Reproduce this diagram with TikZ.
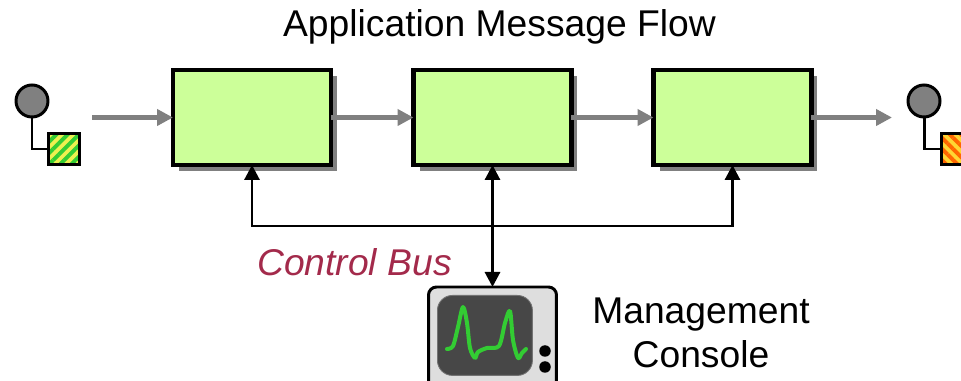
\documentclass[tikz,border=0pt]{standalone}
\usepackage{fontspec}
\setmainfont{Liberation Sans}
\usepackage{xcolor}
\usetikzlibrary{arrows.meta}
\usetikzlibrary{patterns.meta}
\usetikzlibrary{shadows}
\definecolor{boxgreen}{HTML}{CCFF99}
\definecolor{flowgray}{HTML}{808080}
\definecolor{busred}{HTML}{A32A4B}
\definecolor{stripegreen}{HTML}{33CC33}
\definecolor{stripeyellow}{HTML}{EEF050}
\definecolor{stripeorange}{HTML}{FF6600}
\definecolor{stripegold}{HTML}{FFD633}
\definecolor{screengreen}{HTML}{33CC33}
\tikzset{
	filterbox/.style={draw, line width=2.4pt, fill=boxgreen, minimum width=3.16cm, minimum height=1.9cm, outer sep=0pt,
		drop shadow={shadow xshift=.12cm, shadow yshift=-.12cm, opacity=1, fill=flowgray}},
	flowarrow/.style={draw=flowgray, line width=.09cm, -{Triangle[length=.32cm,width=.32cm]}},
	busline/.style={line width=1.7pt},
	bustip/.style={{Triangle[length=.3cm,width=.3cm]}-{Triangle[length=.3cm,width=.3cm]}},
	endcircle/.style={circle, draw, line width=1.7pt, fill=flowgray, minimum size=.64cm, inner sep=0pt, outer sep=0pt},
	endsquare/.style={rectangle, draw, line width=1.7pt, minimum size=.62cm, inner sep=0pt, outer sep=0pt},
	startstripes/.style={preaction={fill=stripeyellow}, pattern={Lines[angle=45,distance=4.5pt,line width=2.2pt]}, pattern color=stripegreen},
	stopstripes/.style={preaction={fill=stripegold}, pattern={Lines[angle=-45,distance=4.5pt,line width=2.2pt]}, pattern color=stripeorange},
	labeltext/.style={font=\fontsize{21.2}{25}\selectfont, align=center},
}
\begin{document}
\begin{tikzpicture}[x=.02cm, y=-.02cm]
	\useasboundingbox (0,0) rectangle (961,381);
	\clip (0,0) rectangle (961,381);
	% Title and labels
	\node[labeltext] (title) at (499.5,26.5) {Application Message Flow};
	\node[labeltext, busred] (buslabel) at (354.5,262) {\itshape Control Bus};
	\node[labeltext] (consolelabel) at (701,333) {Management\\Console};
	% Filters
	\node[filterbox] (filterone) at (252,117.5) {};
	\node[filterbox] (filtertwo) at (492.5,117.5) {};
	\node[filterbox] (filterthree) at (732.5,117.5) {};
	% Start and stop endpoints
	\node[endcircle] (startcircle) at (32,101) {};
	\node[endsquare, startstripes] (startsquare) at (64,149) {};
	\draw[line width=1.7pt] (startcircle.south) |- (startsquare.west);
	\node[endcircle] (stopcircle) at (924,101) {};
	\node[endsquare, stopstripes] (stopsquare) at (957,149) {};
	\draw[line width=1.7pt] (stopcircle.south) |- (stopsquare.west);
	% Message flow
	\coordinate (flowin) at (92,117.5);
	\coordinate (flowout) at (892,117.5);
	\draw[flowarrow] (flowin) -- (filterone.west);
	\draw[flowarrow] (filterone.east) -- (filtertwo.west);
	\draw[flowarrow] (filtertwo.east) -- (filterthree.west);
	\draw[flowarrow] (filterthree.east) -- (flowout);
	% Management console
	\node[draw, line width=1.7pt, fill=black!13, rounded corners=.16cm, minimum width=2.56cm, minimum height=2.4cm, outer sep=0pt, anchor=north] (console) at (492.5,287) {};
	\node[fill=black!72, draw=black!55, line width=.5pt, rounded corners=.3cm, minimum width=1.9cm, minimum height=1.6cm, inner sep=0pt, anchor=north west] (screen) at (437,295) {};
	\node[circle, fill=black, minimum size=.23cm, inner sep=0pt] (knobone) at (545,351) {};
	\node[circle, fill=black, minimum size=.23cm, inner sep=0pt] (knobtwo) at (545,367) {};
	\draw[screengreen, line width=.08cm, line cap=round, line join=round] plot[smooth, tension=.5] coordinates {(447,349) (453,346) (458,327) (463,307) (467,323) (470,348) (475,358) (478,352) (487,348) (499,346) (505,323) (510,311) (513,340) (518,358) (522,353) (526,349)};
	% Control bus
	\coordinate (busmid) at (492.5,226);
	\draw[busline, bustip] (filtertwo.south) -- (console.north);
	\draw[busline, -{Triangle[length=.3cm,width=.3cm]}] (busmid) -| (filterone.south);
	\draw[busline, -{Triangle[length=.3cm,width=.3cm]}] (busmid) -| (filterthree.south);
\end{tikzpicture}
\end{document}
